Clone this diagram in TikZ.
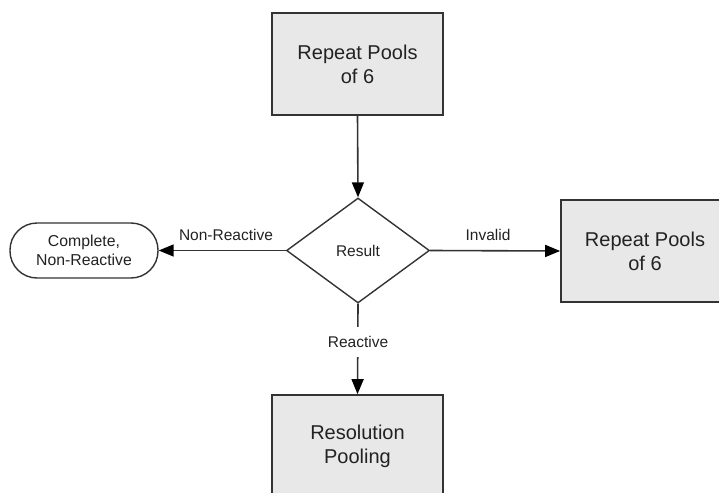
\documentclass[tikz,border=0pt]{standalone}
\usepackage{fontspec}
\setmainfont{Liberation Sans}
\usetikzlibrary{shapes.geometric,arrows.meta}
\definecolor{edge}{HTML}{333333}
\definecolor{boxfill}{HTML}{E8E8E8}
\definecolor{txt}{HTML}{222222}
\begin{document}
\begin{tikzpicture}[x=1pt,y=-1pt,
  procbox/.style={draw=edge,fill=boxfill,line width=1.7pt,minimum width=171pt,minimum height=102pt,inner sep=0pt,align=center,font=\fontsize{20}{24}\selectfont,text=txt},
  decide/.style={draw=edge,fill=white,line width=1.4pt,diamond,aspect=1.36,minimum width=143pt,minimum height=105pt,inner sep=0pt,font=\fontsize{15.5}{18}\selectfont,text=txt},
  term/.style={draw=edge,fill=white,line width=1.4pt,rectangle,rounded corners=27pt,minimum width=148pt,minimum height=55pt,inner sep=0pt,align=center,font=\fontsize{15.8}{18.5}\selectfont,text=txt},
  conn/.style={draw=edge,line width=1.6pt,-{Triangle[length=15pt,width=12pt,fill=black,color=black]}},
  lbl/.style={font=\fontsize{15.5}{18}\selectfont,text=txt}]
\useasboundingbox (0,0) rectangle (719,492);
\node[procbox] (top) at (357.5,64) {Repeat Pools\\of 6};
\node[decide] (res) at (358,250.5) {Result};
\node[term] (done) at (84,250.5) {Complete,\\Non-Reactive};
\node[procbox,minimum width=168pt] (rep) at (645,251) {Repeat Pools\\of 6};
\node[procbox] (resol) at (357.5,446) {Resolution\\Pooling};
\draw[conn] (top.south) -- (res.north);
\draw[conn] (res.west) -- (done.east);
\draw[conn] (res.east) -- (rep.west);
\draw[conn] (res.south) -- (resol.north);
\node[lbl] (lnr) at (226,235) {Non-Reactive};
\node[lbl] (linv) at (488,235) {Invalid};
\node[lbl,fill=white,inner xsep=4pt,inner ysep=9pt] (lre) at (358,342) {Reactive};
\end{tikzpicture}
\end{document}
